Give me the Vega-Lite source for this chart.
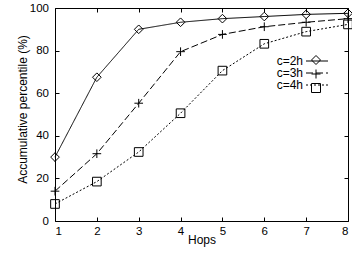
{
  "$schema": "https://vega.github.io/schema/vega-lite/v6.json",
  "width": 293,
  "height": 213,
  "autosize": {"type": "none"},
  "padding": {"left": 55, "top": 8, "right": 4, "bottom": 35},
  "background": "white",
  "config": {
    "font": "Liberation Sans",
    "view": {"stroke": null},
    "axis": {
      "domainColor": "black",
      "domainWidth": 1,
      "tickColor": "black",
      "tickWidth": 1,
      "tickSize": -4,
      "labelColor": "black",
      "labelFontSize": 11.5,
      "titleColor": "black",
      "titleFontSize": 12,
      "titleFontWeight": "normal",
      "grid": false
    }
  },
  "data": {
    "values": [
      {"series": "c=2h", "hops": 1, "pct": 30},
      {"series": "c=2h", "hops": 2, "pct": 67.5},
      {"series": "c=2h", "hops": 3, "pct": 90},
      {"series": "c=2h", "hops": 4, "pct": 93.3},
      {"series": "c=2h", "hops": 5, "pct": 95},
      {"series": "c=2h", "hops": 6, "pct": 96},
      {"series": "c=2h", "hops": 7, "pct": 97},
      {"series": "c=2h", "hops": 8, "pct": 97.5},
      {"series": "c=3h", "hops": 1, "pct": 14},
      {"series": "c=3h", "hops": 2, "pct": 31.6},
      {"series": "c=3h", "hops": 3, "pct": 55.3},
      {"series": "c=3h", "hops": 4, "pct": 79.5},
      {"series": "c=3h", "hops": 5, "pct": 87.6},
      {"series": "c=3h", "hops": 6, "pct": 91.2},
      {"series": "c=3h", "hops": 7, "pct": 93.3},
      {"series": "c=3h", "hops": 8, "pct": 95},
      {"series": "c=4h", "hops": 1, "pct": 8},
      {"series": "c=4h", "hops": 2, "pct": 18.5},
      {"series": "c=4h", "hops": 3, "pct": 32.4},
      {"series": "c=4h", "hops": 4, "pct": 50.6},
      {"series": "c=4h", "hops": 5, "pct": 70.6},
      {"series": "c=4h", "hops": 6, "pct": 83.2},
      {"series": "c=4h", "hops": 7, "pct": 88.9},
      {"series": "c=4h", "hops": 8, "pct": 92.3}
    ]
  },
  "layer": [
    {
      "mark": {"type": "line", "color": "black", "strokeWidth": 1},
      "encoding": {
        "x": {
          "field": "hops", "type": "quantitative",
          "scale": {"domain": [1, 8], "nice": false},
          "axis": {"orient": "bottom", "values": [1, 2, 3, 4, 5, 6, 7, 8], "title": "Hops", "labelPadding": 8.5, "titleY": 22, "titleBaseline": "alphabetic"}
        },
        "y": {
          "field": "pct", "type": "quantitative",
          "scale": {"domain": [0, 100], "nice": false},
          "axis": {"orient": "left", "values": [0, 20, 40, 60, 80, 100], "title": "Accumulative percentile (%)", "labelPadding": 10.5, "titleX": -33, "titleY": 101, "titleBaseline": "middle", "titleAngle": -90}
        },
        "strokeDash": {
          "field": "series", "type": "nominal",
          "scale": {"range": [[1, 0], [7, 3], [2, 2]]},
          "legend": {
            "orient": "none", "legendX": 256, "legendY": 47, "title": null,
            "symbolType": "M-4.4,0H4.4", "symbolSize": 25, "symbolStrokeColor": "black", "symbolFillColor": "transparent", "symbolStrokeWidth": 1,
            "labelAlign": "right", "labelOffset": -20, "labelFontSize": 10, "labelColor": "black",
            "encode": {"labels": {"update": {"fontSize": {"value": 12}}}},
            "rowPadding": 0, "padding": 0
          }
        }
      }
    },
    {
      "mark": {"type": "point", "filled": false, "color": "black", "strokeWidth": 1, "opacity": 1, "size": 75},
      "encoding": {
        "x": {
          "field": "hops", "type": "quantitative",
          "scale": {"domain": [1, 8], "nice": false},
          "axis": {"orient": "top", "values": [1, 2, 3, 4, 5, 6, 7, 8], "labels": false, "title": null}
        },
        "y": {
          "field": "pct", "type": "quantitative",
          "scale": {"domain": [0, 100], "nice": false},
          "axis": {"orient": "right", "values": [0, 20, 40, 60, 80, 100], "labels": false, "title": null}
        },
        "shape": {
          "field": "series", "type": "nominal",
          "scale": {"domain": ["c=2h", "c=3h", "c=4h"], "range": ["diamond", "M-1,0H1M0,-1V1", "square"]},
          "legend": {
            "orient": "none", "legendX": 256, "legendY": 47, "title": null,
            "symbolSize": 81, "symbolStrokeColor": "black", "symbolFillColor": "transparent", "symbolStrokeWidth": 1,
            "labelExpr": "' '", "labelFontSize": 10,
            "rowPadding": 0, "padding": 0
          }
        }
      }
    }
  ]
}
